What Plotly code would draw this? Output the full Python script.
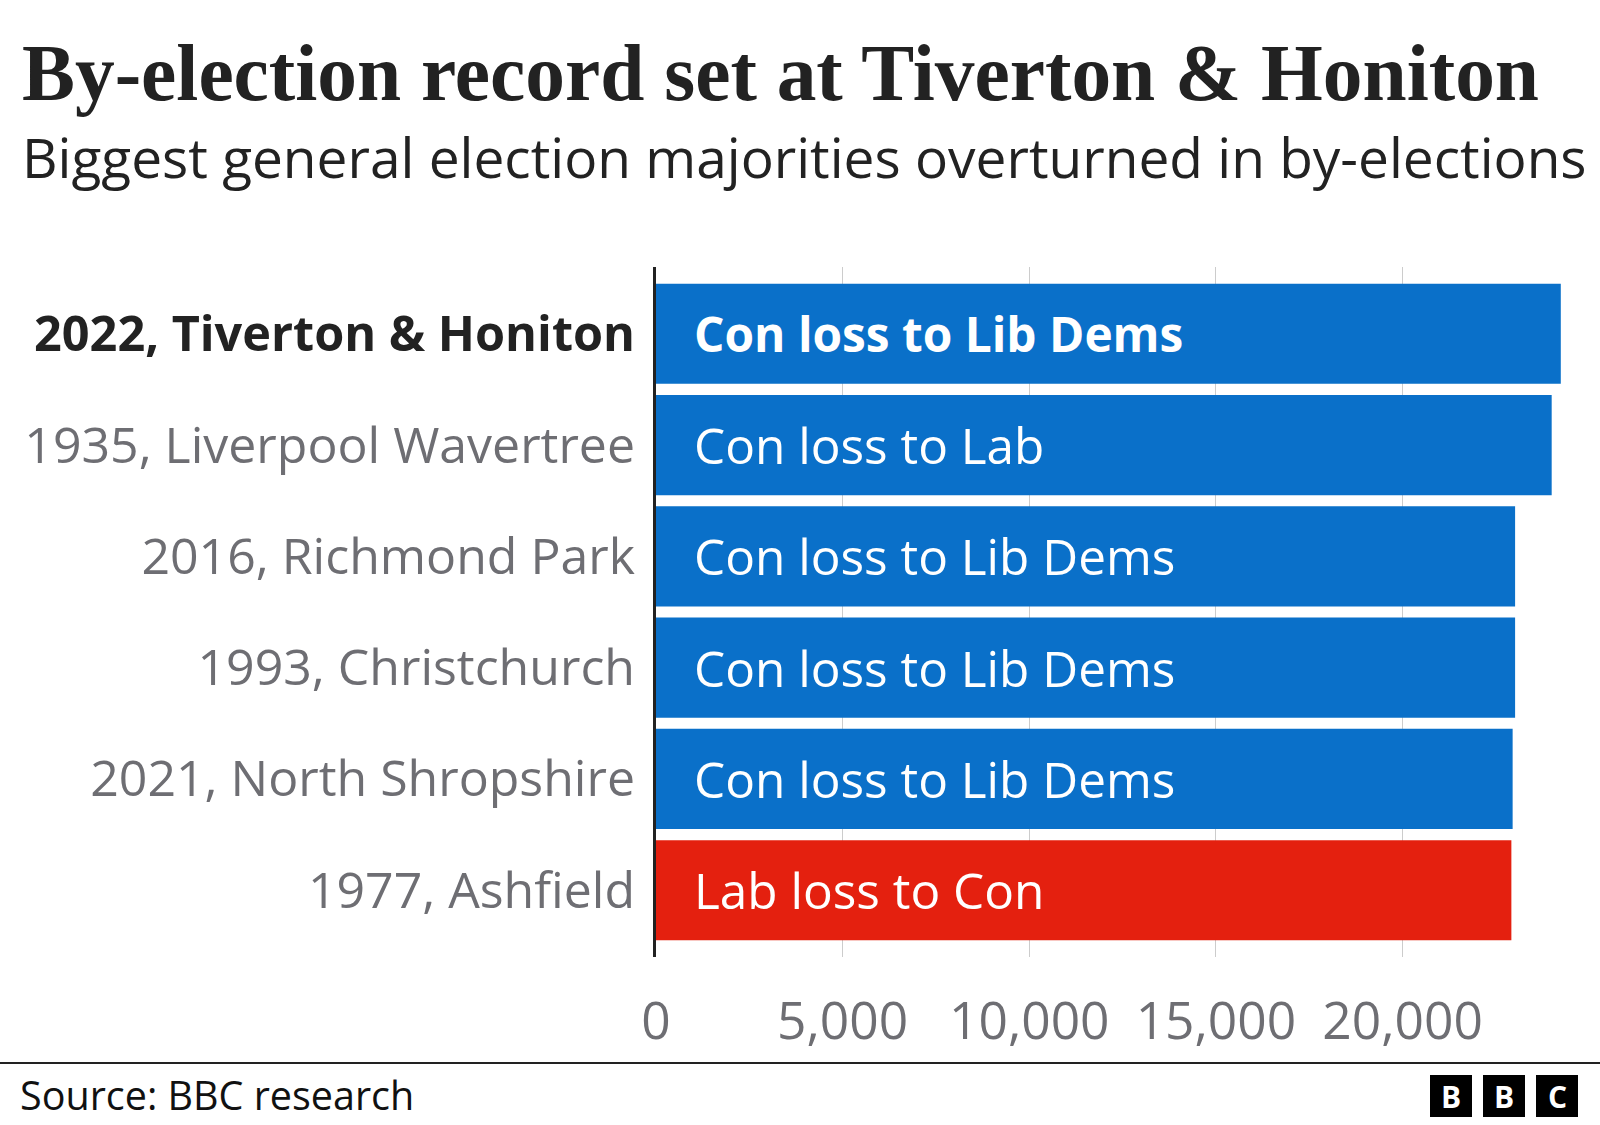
import plotly.graph_objects as go

# ---- data ----
categories = ["2022, Tiverton &amp; Honiton", "1935, Liverpool Wavertree", "2016, Richmond Park",
              "1993, Christchurch", "2021, North Shropshire", "1977, Ashfield"]
majority = [24239, 23995, 23015, 23015, 22949, 22915]
result_labels = ["Con loss to Lib Dems", "Con loss to Lab", "Con loss to Lib Dems",
                 "Con loss to Lib Dems", "Con loss to Lib Dems", "Lab loss to Con"]
losing_party = ["Con", "Con", "Con", "Con", "Con", "Lab"]
x_ticks = [0, 5000, 10000, 15000, 20000]
x_tick_labels = ["0", "5,000", "10,000", "15,000", "20,000"]

party_colors = {"Con": "#0a70c9", "Lab": "#e4200f"}

# ---- layout geometry (pixels) ----
W, H = 1600, 1125
L, R, T, B = 656, 1578, 267, 957
PW, PH = R - L, B - T


def px(x):
    return (x - L) / PW


def py(y):
    return (B - y) / PH


SANS = "Open Sans, Noto Sans, sans-serif"
SERIF = "Liberation Serif, DejaVu Serif, serif"

fig = go.Figure()
fig.add_trace(go.Bar(
    x=majority, y=categories, orientation="h",
    marker=dict(color=[party_colors[p] for p in losing_party], line=dict(width=0)),
    hoverinfo="skip", showlegend=False,
))

annotations = []
for i, (cat, lab) in enumerate(zip(categories, result_labels)):
    txt = f"<b>{lab}</b>" if i == 0 else lab
    annotations.append(dict(x=0, y=cat, xref="x", yref="y", text=txt, showarrow=False,
                            xanchor="left", yanchor="middle", xshift=36,
                            font=dict(family=SANS, size=47.8 if i == 0 else 49.5, color="white")))

# title / subtitle / source
annotations.append(dict(x=px(20), y=py(73), xref="paper", yref="paper", xanchor="left", yanchor="middle",
                        text="<b>By-election record set at Tiverton &amp; Honiton</b>", showarrow=False,
                        font=dict(family=SERIF, size=79.4, color="#222222")))
annotations.append(dict(x=px(20), y=py(157), xref="paper", yref="paper", xanchor="left", yanchor="middle",
                        text="Biggest general election majorities overturned in by-elections", showarrow=False,
                        font=dict(family=SANS, size=55, color="#222222")))
annotations.append(dict(x=px(18), y=py(1095), xref="paper", yref="paper", xanchor="left", yanchor="middle",
                        text="Source: BBC research", showarrow=False,
                        font=dict(family=SANS, size=39.5, color="#111111")))

shapes = [dict(type="line", xref="paper", yref="paper", x0=px(0), x1=px(1600), y0=py(1063), y1=py(1063),
               line=dict(color="#222222", width=2))]
for x0, letter in zip([1430, 1483, 1536], ["B", "B", "C"]):
    shapes.append(dict(type="rect", xref="paper", yref="paper", x0=px(x0), x1=px(x0 + 42),
                       y0=py(1117), y1=py(1075), fillcolor="#000000", line=dict(width=0)))
    annotations.append(dict(x=px(x0 + 21), y=py(1096), xref="paper", yref="paper", xanchor="center",
                            yanchor="middle", text=f"<b>{letter}</b>", showarrow=False,
                            font=dict(family=SANS, size=30, color="white")))

ticktext = [f"<span style='color:#222222;font-size:48.6px'><b>{c}</b></span>" if i == 0 else c
            for i, c in enumerate(categories)]

fig.update_layout(
    width=W, height=H,
    margin=dict(l=L, r=W - R, t=T, b=H - B, pad=0),
    paper_bgcolor="white", plot_bgcolor="white",
    bargap=0.1,
    xaxis=dict(range=[0, 24700], tickvals=x_ticks, ticktext=x_tick_labels, showgrid=True,
               gridcolor="#cccccc", gridwidth=1, zeroline=False, showline=False, ticks="",
               tickfont=dict(family=SANS, size=51.5, color="#6e6e73"), ticklabelstandoff=29,
               fixedrange=True),
    yaxis=dict(type="category", categoryarray=categories, range=[5.6, -0.6], showgrid=False,
               zeroline=False, showline=True, linecolor="#222222", linewidth=3, ticks="",
               tickvals=categories, ticktext=ticktext,
               tickfont=dict(family=SANS, size=50, color="#6e6e73"), ticklabelstandoff=8,
               fixedrange=True),
    annotations=annotations, shapes=shapes,
)

fig.write_html("out.html")
